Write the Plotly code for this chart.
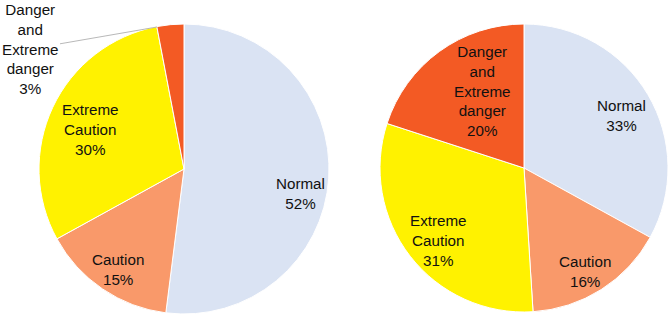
import plotly.graph_objects as go

W, H = 671, 316

# ---- data ----
categories = ["Normal", "Caution", "Extreme Caution", "Danger and Extreme danger"]
label_lines = ["Normal", "Caution", "Extreme<br>Caution", "Danger<br>and<br>Extreme<br>danger"]
left_values = [52, 15, 30, 3]
right_values = [33, 16, 31, 20]

# ---- style ----
colors = ["#DAE3F3", "#F9996A", "#FFF200", "#F35A24"]
FONT = "Arial, Liberation Sans, Helvetica, sans-serif"
FS = 15.2

# pie boxes in pixels (left, top, right, bottom)
left_box = (39, 24, 329, 314)
right_box = (380, 24, 668, 312)

# label centers in pixels for each slice (layout styling)
left_label_px = [(300, 193), (118, 269), (90, 129), (30, 49)]
right_label_px = [(621, 116), (585, 271), (438, 240), (482, 91)]


def dom(box):
    l, t, r, b = box
    return dict(x=[l / W, r / W], y=[(H - b) / H, (H - t) / H])


def pct(vals):
    s = sum(vals)
    return [f"{round(v / s * 100)}%" for v in vals]


fig = go.Figure()
for vals, box in [(left_values, left_box), (right_values, right_box)]:
    fig.add_trace(go.Pie(
        labels=categories, values=vals, sort=False, direction="clockwise",
        rotation=0, domain=dom(box), textinfo="none", hoverinfo="label+percent",
        marker=dict(colors=colors, line=dict(color="white", width=1)),
    ))

annotations = []
for vals, pos in [(left_values, left_label_px), (right_values, right_label_px)]:
    ps = pct(vals)
    for i, (lab, p) in enumerate(zip(label_lines, ps)):
        x, y = pos[i]
        annotations.append(dict(
            x=x / W, y=1 - y / H, xref="paper", yref="paper",
            text=f"{lab}<br>{p}", showarrow=False, align="center",
            xanchor="center", yanchor="middle",
            font=dict(family=FONT, size=FS, color="#111111"),
        ))

# leader line for the small left slice label: from slice edge to the label
tip = (157, 27)
lx, ly = left_label_px[3]
annotations[3].update(dict(
    x=tip[0] / W, y=1 - tip[1] / H, showarrow=True, arrowhead=0,
    arrowwidth=0.8, arrowcolor="#A6A6A6", ax=lx - tip[0], ay=ly - tip[1],
    axref="pixel", ayref="pixel", standoff=0, startstandoff=0,
))

fig.update_layout(
    width=W, height=H, margin=dict(l=0, r=0, t=0, b=0),
    paper_bgcolor="white", plot_bgcolor="white", showlegend=False,
    annotations=annotations,
)

fig.write_html(
    "out.html",
    config={"displayModeBar": False},
    post_script="document.body.style.margin='0';document.body.style.padding='0';",
)
